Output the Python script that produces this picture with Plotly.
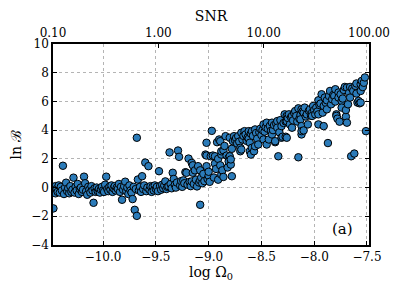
import plotly.graph_objects as go

# ---- data ----
flat_x = [-10.47, -10.46, -10.45, -10.45, -10.44, -10.43, -10.42, -10.41, -10.40, -10.39,
          -10.38, -10.37, -10.36, -10.35, -10.34, -10.33, -10.32, -10.31, -10.30, -10.29,
          -10.28, -10.27, -10.26, -10.25, -10.24, -10.23, -10.22, -10.21, -10.20, -10.19,
          -10.18, -10.17, -10.16, -10.15, -10.14, -10.13, -10.12, -10.11, -10.10, -10.09,
          -10.08, -10.07, -10.06, -10.05, -10.04, -10.03, -10.02, -10.01, -10.00, -9.99,
          -9.98, -9.97, -9.96, -9.95, -9.94, -9.93, -9.92, -9.91, -9.90, -9.89,
          -9.88, -9.87, -9.86, -9.85, -9.84, -9.83, -9.82, -9.81, -9.80, -9.79,
          -9.78, -9.77, -9.76, -9.75, -9.74, -9.73, -9.72, -9.71, -9.70, -9.69,
          -9.68, -9.68, -9.67, -9.66, -9.65, -9.64, -9.63, -9.62, -9.61, -9.60,
          -9.59, -9.58, -9.57, -9.56, -9.55, -9.54, -9.53, -9.52, -9.51, -9.50,
          -9.49, -9.48, -9.47, -9.46, -9.45, -9.44, -9.43, -9.42, -9.41, -9.40,
          -9.39, -9.38, -9.37, -9.36, -9.35, -9.34, -9.33, -9.32, -9.31, -9.30]
flat_y = [-1.45, -0.25, 0.10, -0.40, -0.10, -0.30, 0.15, -0.35, 0.05, -0.20,
          1.52, -0.45, 0.00, 0.34, -0.25, -0.05, -0.40, 0.10, -0.30, -0.15,
          0.69, -0.35, 0.05, -0.20, 0.25, -0.45, -0.10, 0.00, -0.30, -0.15,
          0.76, 0.30, -0.25, -0.50, 0.05, -0.15, -0.35, 0.10, -0.20, -1.06,
          -0.05, -0.30, 0.00, -0.25, -0.10, -0.35, -0.15, 0.05, -0.20, -0.30,
          0.20, 0.76, -0.10, -0.25, 0.05, -0.15, 0.15, -0.30, -0.05, 0.10,
          -0.20, 0.00, -0.10, 0.25, -0.30, 0.05, -0.85, -0.15, 0.10, 0.41,
          -0.25, 0.00, -0.45, 0.15, -0.20, -0.35, -0.80, 0.05, -1.55, -0.10,
          -1.97, 3.47, 0.56, -0.20, 0.05, -0.30, 0.79, -0.10, 0.15, 1.74,
          -0.25, 0.00, 1.49, -0.15, 0.10, -0.30, 0.05, -0.20, 0.15, -0.10,
          0.05, -0.25, 1.14, 0.10, -0.15, 0.20, -0.05, 0.15, 0.43, -0.10,
          0.05, 0.10, 2.45, 0.25, -0.05, 1.03, 0.60, 0.20, 0.00, 0.35]

trans_x = [-9.29, -9.28, -9.27, -9.26, -9.25, -9.24, -9.23, -9.22, -9.21, -9.20,
           -9.19, -9.18, -9.17, -9.16, -9.16, -9.15, -9.15, -9.14, -9.13, -9.12,
           -9.11, -9.10, -9.09, -9.08, -9.08, -9.08, -9.07, -9.06, -9.05, -9.04,
           -9.03, -9.02, -9.02, -9.02, -9.01, -9.00, -9.00, -8.99, -8.98, -8.97,
           -8.96, -8.95, -8.94, -8.94, -8.93, -8.92, -8.91, -8.91, -8.90, -8.89,
           -8.89, -8.88, -8.88, -8.88, -8.87, -8.86, -8.86, -8.85, -8.84, -8.83,
           -8.82, -8.81, -8.81, -8.80, -8.80, -8.79, -8.79, -8.78, -8.78, -8.77]
trans_y = [2.58, 2.14, 0.15, 0.45, 0.05, 0.50, 0.30, 1.07, 1.03, 0.20,
           2.02, 0.40, 0.10, 1.72, 0.43, 1.55, 1.03, 0.25, 1.20, 0.55,
           0.08, 1.49, 0.35, 1.20, 0.50, -1.20, 0.70, 0.30, 0.95, 0.45,
           2.30, 3.12, 2.23, 1.49, 0.60, 0.83, 1.10, 0.40, 2.18, 3.95,
           2.23, 0.70, 2.18, 1.67, 1.30, 3.16, 0.55, 2.00, 3.35, 1.55,
           3.23, 0.90, 2.30, 2.53, 1.20, 0.74, 2.60, 2.90, 3.58, 2.23,
           1.40, 2.07, 1.83, 3.47, 2.18, 1.60, 1.96, 0.79, 2.70, 3.23]

mid_x = [-8.76, -8.75, -8.74, -8.73, -8.72, -8.71, -8.70, -8.70, -8.69, -8.69,
         -8.68, -8.67, -8.66, -8.65, -8.64, -8.63, -8.62, -8.62, -8.61, -8.61,
         -8.60, -8.60, -8.59, -8.59, -8.58, -8.57, -8.56, -8.56, -8.55, -8.54,
         -8.53, -8.52, -8.51, -8.50, -8.49, -8.48, -8.48, -8.47, -8.46, -8.45,
         -8.45, -8.44, -8.43, -8.42, -8.41, -8.40, -8.40, -8.39, -8.38, -8.37,
         -8.37, -8.36, -8.35, -8.35, -8.34, -8.33, -8.32, -8.31, -8.31, -8.30,
         -8.29, -8.28, -8.27, -8.27, -8.26, -8.26, -8.26, -8.25, -8.24, -8.23]
mid_y = [3.58, 3.30, 3.45, 3.07, 3.58, 3.20, 2.77, 2.53, 3.82, 2.65,
         3.35, 3.60, 3.93, 3.70, 3.25, 3.50, 3.93, 3.40, 3.12, 2.53,
         2.30, 3.75, 3.93, 2.77, 3.60, 2.53, 4.05, 2.88, 3.80, 3.40,
         3.00, 3.85, 4.10, 3.65, 4.00, 4.40, 3.35, 3.90, 4.20, 4.52,
         3.00, 4.10, 3.35, 4.30, 3.95, 4.52, 3.70, 4.00, 4.35, 3.16,
         3.23, 4.45, 4.63, 4.17, 2.18, 3.85, 4.70, 4.28, 3.47, 3.54,
         4.50, 5.10, 3.54, 4.60, 4.63, 3.47, 4.99, 4.85, 5.10, 4.40]

high_x = [-8.22, -8.21, -8.21, -8.20, -8.19, -8.18, -8.17, -8.16, -8.15, -8.15,
          -8.14, -8.13, -8.13, -8.12, -8.12, -8.12, -8.12, -8.11, -8.10, -8.10,
          -8.09, -8.08, -8.07, -8.06, -8.05, -8.04, -8.03, -8.02, -8.02, -8.01,
          -8.00, -7.99, -7.98, -7.97, -7.96, -7.96, -7.96, -7.95, -7.94, -7.93,
          -7.92, -7.91, -7.91, -7.90, -7.89, -7.88, -7.88, -7.87, -7.86, -7.85,
          -7.84, -7.83, -7.82, -7.81, -7.80, -7.80, -7.79, -7.79, -7.78, -7.77,
          -7.77, -7.76, -7.75, -7.74, -7.74, -7.73, -7.72, -7.71, -7.70, -7.70,
          -7.69, -7.69, -7.68, -7.67, -7.66, -7.66, -7.65, -7.64, -7.63, -7.62,
          -7.61, -7.60, -7.60, -7.59, -7.58, -7.57, -7.56, -7.56, -7.56, -7.55,
          -7.54, -7.53, -7.52, -7.51]
high_y = [4.90, 4.99, 4.17, 4.68, 5.20, 5.33, 4.99, 4.60, 5.52, 2.11,
          4.80, 5.05, 4.75, 5.45, 4.28, 3.70, 3.93, 5.30, 5.22, 3.98,
          5.57, 4.95, 5.10, 4.40, 5.35, 5.45, 5.00, 5.22, 4.99, 5.68,
          5.40, 5.10, 5.57, 5.30, 6.08, 5.10, 4.40, 5.75, 5.85, 6.50,
          5.22, 5.68, 4.28, 6.27, 5.90, 6.08, 5.45, 3.10, 6.38, 6.73,
          5.80, 6.15, 6.45, 6.38, 6.85, 5.99, 5.10, 4.99, 4.80, 6.62,
          6.27, 4.59, 6.50, 6.03, 5.57, 6.20, 6.80, 7.01, 4.94, 5.40,
          6.97, 4.52, 5.80, 6.60, 7.01, 6.27, 2.18, 6.90, 6.73, 2.37,
          7.08, 7.25, 6.55, 5.92, 6.03, 5.87, 7.20, 6.73, 5.92, 7.43,
          7.00, 7.30, 7.67, 3.93]

log_omega = flat_x + trans_x + mid_x + high_x
ln_bayes = flat_y + trans_y + mid_y + high_y

x_ticks = [-10.0, -9.5, -9.0, -8.5, -8.0, -7.5]
x_ticklabels = ["\u221210.0", "\u22129.5", "\u22129.0", "\u22128.5", "\u22128.0", "\u22127.5"]
y_ticks = [-4, -2, 0, 2, 4, 6, 8, 10]
y_ticklabels = ["\u22124", "\u22122", "0", "2", "4", "6", "8", "10"]
snr_ticks = [0.1, 1, 10, 100]
snr_ticklabels = ["0.10", "1.00", "10.00", "100.00"]

FONT = "DejaVu Serif"
GRID = "#b4b4b4"

fig = go.Figure()
fig.add_trace(go.Scatter(
    x=log_omega, y=ln_bayes, mode="markers",
    marker=dict(size=7.5, color="#2b7bb9", line=dict(color="black", width=1)),
    showlegend=False, hoverinfo="skip"))
# invisible trace to activate the top SNR axis
fig.add_trace(go.Scatter(x=[snr_ticks[0], snr_ticks[-1]], y=[y_ticks[0], y_ticks[0]],
                         xaxis="x2", mode="markers", marker=dict(opacity=0),
                         showlegend=False, hoverinfo="skip"))

# page body has an 8px margin: shrink the figure so the plot area lands where the reference has it
fig.update_layout(
    width=391, height=287,
    margin=dict(l=45, r=30, t=36, b=50, autoexpand=False),
    paper_bgcolor="white", plot_bgcolor="white",
    font=dict(family=FONT, size=12, color="black"),
    xaxis=dict(
        range=[-10.474, -7.481], tickvals=x_ticks, ticktext=x_ticklabels,
        ticks="inside", ticklen=4, tickcolor="black", tickwidth=1,
        showline=True, linecolor="black", linewidth=1.5, mirror=False,
        showgrid=True, gridcolor=GRID, griddash="dot", gridwidth=1,
        zeroline=False, automargin=False,
        title=dict(text="log \u03a9<sub>0</sub>", font=dict(size=14, family=FONT), standoff=3),
        tickfont=dict(size=12, family=FONT),
    ),
    xaxis2=dict(
        type="log", range=[-1, 2], overlaying="x", side="top",
        tickvals=snr_ticks, ticktext=snr_ticklabels,
        ticks="inside", ticklen=4, tickcolor="black", tickwidth=1,
        showline=True, linecolor="black", linewidth=1.5,
        showgrid=False, zeroline=False, automargin=False,
        title=dict(text="SNR", font=dict(size=14, family=FONT), standoff=3),
        tickfont=dict(size=12, family=FONT),
    ),
    yaxis=dict(
        range=[-4, 10], tickvals=y_ticks, ticktext=y_ticklabels,
        ticks="inside", ticklen=4, tickcolor="black", tickwidth=1,
        showline=True, linecolor="black", linewidth=1.5, mirror="ticks",
        showgrid=True, gridcolor=GRID, griddash="dot", gridwidth=1,
        zeroline=False, automargin=False,
        title=dict(text="ln \u212c", font=dict(size=14, family=FONT), standoff=6),
        tickfont=dict(size=12, family=FONT),
    ),
    annotations=[dict(text="(a)", x=0.915, y=0.025, xref="paper", yref="paper",
                      xanchor="center", yanchor="bottom", showarrow=False,
                      font=dict(size=15, family=FONT))],
)

fig.write_html("out.html")
